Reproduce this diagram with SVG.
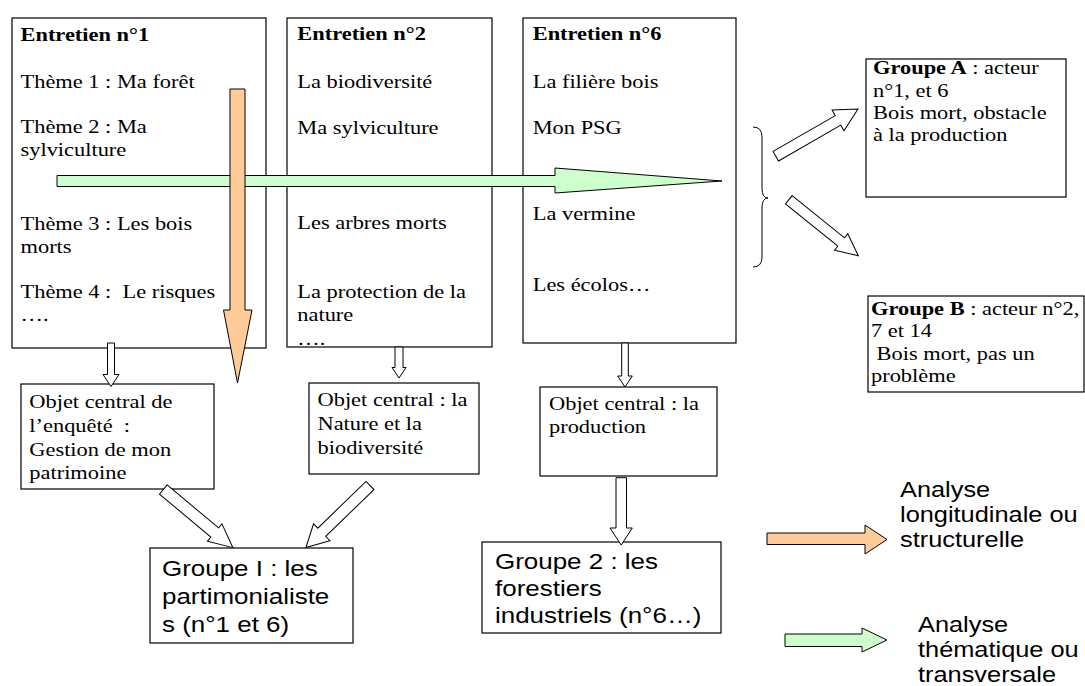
<svg xmlns="http://www.w3.org/2000/svg" width="1085" height="686" viewBox="0 0 1085 686">
<style>
.box{fill:#fff;stroke:#000;stroke-width:1.2}
.t{font-family:"Liberation Serif","Times New Roman",serif;font-size:19px;fill:#000}
.s{font-family:"Liberation Sans",Arial,sans-serif;font-size:22px;fill:#000}
.l{font-family:"Liberation Sans",Arial,sans-serif;font-size:21.5px;fill:#000}
.b{font-weight:bold}
.hollow{fill:#fff;stroke:#000;stroke-width:1}
.orange{fill:#ffcc99;stroke:#000;stroke-width:1}
.green{fill:#ccffcc;stroke:#000;stroke-width:1}
</style>
<rect width="1085" height="686" fill="#fff"/>

<g id="entretien1">
<rect class="box" x="12" y="18" width="254" height="330"/>
<text class="t" transform="translate(20.5,0) scale(1.18,1)" xml:space="preserve"><tspan class="b" x="0" y="41">Entretien n°1</tspan><tspan x="0" y="87.7">Thème 1 : Ma forêt</tspan><tspan x="0" y="133">Thème 2 : Ma</tspan><tspan x="0" y="156.5">sylviculture</tspan><tspan x="0" y="230">Thème 3 : Les bois</tspan><tspan x="0" y="253">morts</tspan><tspan x="0" y="298">Thème 4 :  Le risques</tspan><tspan x="0" y="321.5">….</tspan></text>
</g>

<g id="entretien2">
<rect class="box" x="287" y="18" width="205" height="329"/>
<text class="t" transform="translate(297.3,0) scale(1.18,1)" xml:space="preserve"><tspan class="b" x="0" y="40.5">Entretien n°2</tspan><tspan x="0" y="88">La biodiversité</tspan><tspan x="0" y="134.5">Ma sylviculture</tspan><tspan x="0" y="229">Les arbres morts</tspan><tspan x="0" y="298">La protection de la</tspan><tspan x="0" y="321.5">nature</tspan><tspan x="0" y="345">….</tspan></text>
</g>

<g id="entretien6">
<rect class="box" x="523" y="18" width="213" height="325"/>
<text class="t" transform="translate(532.7,0) scale(1.18,1)" xml:space="preserve"><tspan class="b" x="0" y="40.5">Entretien n°6</tspan><tspan x="0" y="88">La filière bois</tspan><tspan x="0" y="134.5">Mon PSG</tspan><tspan x="0" y="220">La vermine</tspan><tspan x="0" y="291.5">Les écolos…</tspan></text>
</g>

<g id="groupeA">
<rect class="box" x="866" y="59" width="200" height="138"/>
<text class="t" transform="translate(873,0) scale(1.18,1)" xml:space="preserve"><tspan x="0" y="74.5"><tspan class="b">Groupe A</tspan> : acteur</tspan><tspan x="0" y="96.8">n°1, et 6</tspan><tspan x="0" y="119">Bois mort, obstacle</tspan><tspan x="0" y="141.5">à la production</tspan></text>
</g>

<g id="groupeB">
<rect class="box" x="868" y="296" width="216" height="96"/>
<text class="t" transform="translate(871,0) scale(1.18,1)" xml:space="preserve"><tspan x="0" y="315"><tspan class="b">Groupe B</tspan> : acteur n°2,</tspan><tspan x="0" y="337.5">7 et 14</tspan><tspan x="0" y="360"> Bois mort, pas un</tspan><tspan x="0" y="382">problème</tspan></text>
</g>

<g id="objet1">
<rect class="box" x="21" y="384" width="193" height="105"/>
<text class="t" transform="translate(29.3,0) scale(1.18,1)" xml:space="preserve"><tspan x="0" y="408">Objet central de</tspan><tspan x="0" y="432">l’enquêté  :</tspan><tspan x="0" y="456">Gestion de mon</tspan><tspan x="0" y="479.5">patrimoine</tspan></text>
</g>

<g id="objet2">
<rect class="box" x="309" y="383" width="170" height="91"/>
<text class="t" transform="translate(317.5,0) scale(1.18,1)" xml:space="preserve"><tspan x="0" y="406.5">Objet central : la</tspan><tspan x="0" y="430">Nature et la</tspan><tspan x="0" y="454">biodiversité</tspan></text>
</g>

<g id="objet3">
<rect class="box" x="540" y="387" width="177" height="89"/>
<text class="t" transform="translate(549,0) scale(1.18,1)" xml:space="preserve"><tspan x="0" y="410">Objet central : la</tspan><tspan x="0" y="433">production</tspan></text>
</g>

<g id="groupe1">
<rect class="box" x="150" y="548" width="203" height="95"/>
<text class="s" transform="translate(162,0) scale(1.18,1)"><tspan x="0" y="576">Groupe I : les</tspan><tspan x="0" y="604.5">partimonialiste</tspan><tspan x="0" y="632.5">s (n°1 et 6)</tspan></text>
</g>

<g id="groupe2">
<rect class="box" x="482" y="542" width="239" height="91"/>
<text class="s" transform="translate(495,0) scale(1.18,1)"><tspan x="0" y="569.5">Groupe 2 : les</tspan><tspan x="0" y="596.5">forestiers</tspan><tspan x="0" y="623.5">industriels (n°6…)</tspan></text>
</g>

<g id="connectors">
<!-- small vertical hollow arrows -->
<path class="hollow" d="M107.5,343 H114.5 V374.5 H119 L111,386.5 L103,374.5 H107.5 Z"/>
<path class="hollow" d="M395,347 H403 V367.5 H406 L399,378 L392,367.5 H395 Z"/>
<path class="hollow" d="M621.7,343 H628.3 V376 H632.3 L625,387 L617.7,376 H621.7 Z"/>
<path class="hollow" d="M616,477.7 H626.5 V528 H632.3 L621.2,545 L610,528 H616 Z"/>
<!-- diagonal hollow arrows -->
<path class="hollow" transform="translate(163.3,489.5) rotate(39.9)" d="M0,-6 H67 V-11.3 L90.6,0 L67,11.3 V6 H0 Z"/>
<path class="hollow" transform="translate(370,485.5) rotate(135.9)" d="M0,-5.7 H67.2 V-11.8 L89.2,0 L67.2,11.8 V5.7 H0 Z"/>
<path class="hollow" transform="translate(775.8,156.2) rotate(-29.9)" d="M0,-5.5 H71.8 V-12 L94.8,0 L71.8,12 V5.5 H0 Z"/>
<path class="hollow" transform="translate(788.8,199.7) rotate(38.9)" d="M0,-5.3 H67.3 V-10.5 L89.3,0 L67.3,10.5 V5.3 H0 Z"/>
<!-- brace -->
<path d="M753,127 Q762,127 762,137 L762,188 Q762,198 768,198 Q762,198 762,208 L762,257 Q762,267 753,267" fill="none" stroke="#000" stroke-width="1"/>
<!-- big analysis arrows -->
<path class="green" d="M57,175.5 H555 V168 L722,181 L555,193 V186.5 H57 Z"/>
<path class="orange" d="M230,89 H245 V310 H252 L237.5,383 L223.5,310 H230 Z"/>
</g>

<g id="legende-longitudinale">
<path class="orange" d="M767,533 H865 V525 L887,539.5 L865,554 V544.5 H767 Z"/>
<text class="l" transform="translate(900,0) scale(1.18,1)"><tspan x="0" y="497">Analyse</tspan><tspan x="0" y="522">longitudinale ou</tspan><tspan x="0" y="547">structurelle</tspan></text>
</g>

<g id="legende-thematique">
<path class="green" d="M785,634 H862 V628 L887,640 L862,652 V646.5 H785 Z"/>
<text class="l" transform="translate(918,0) scale(1.18,1)"><tspan x="0" y="632">Analyse</tspan><tspan x="0" y="657">thématique ou</tspan><tspan x="0" y="682">transversale</tspan></text>
</g>
</svg>
